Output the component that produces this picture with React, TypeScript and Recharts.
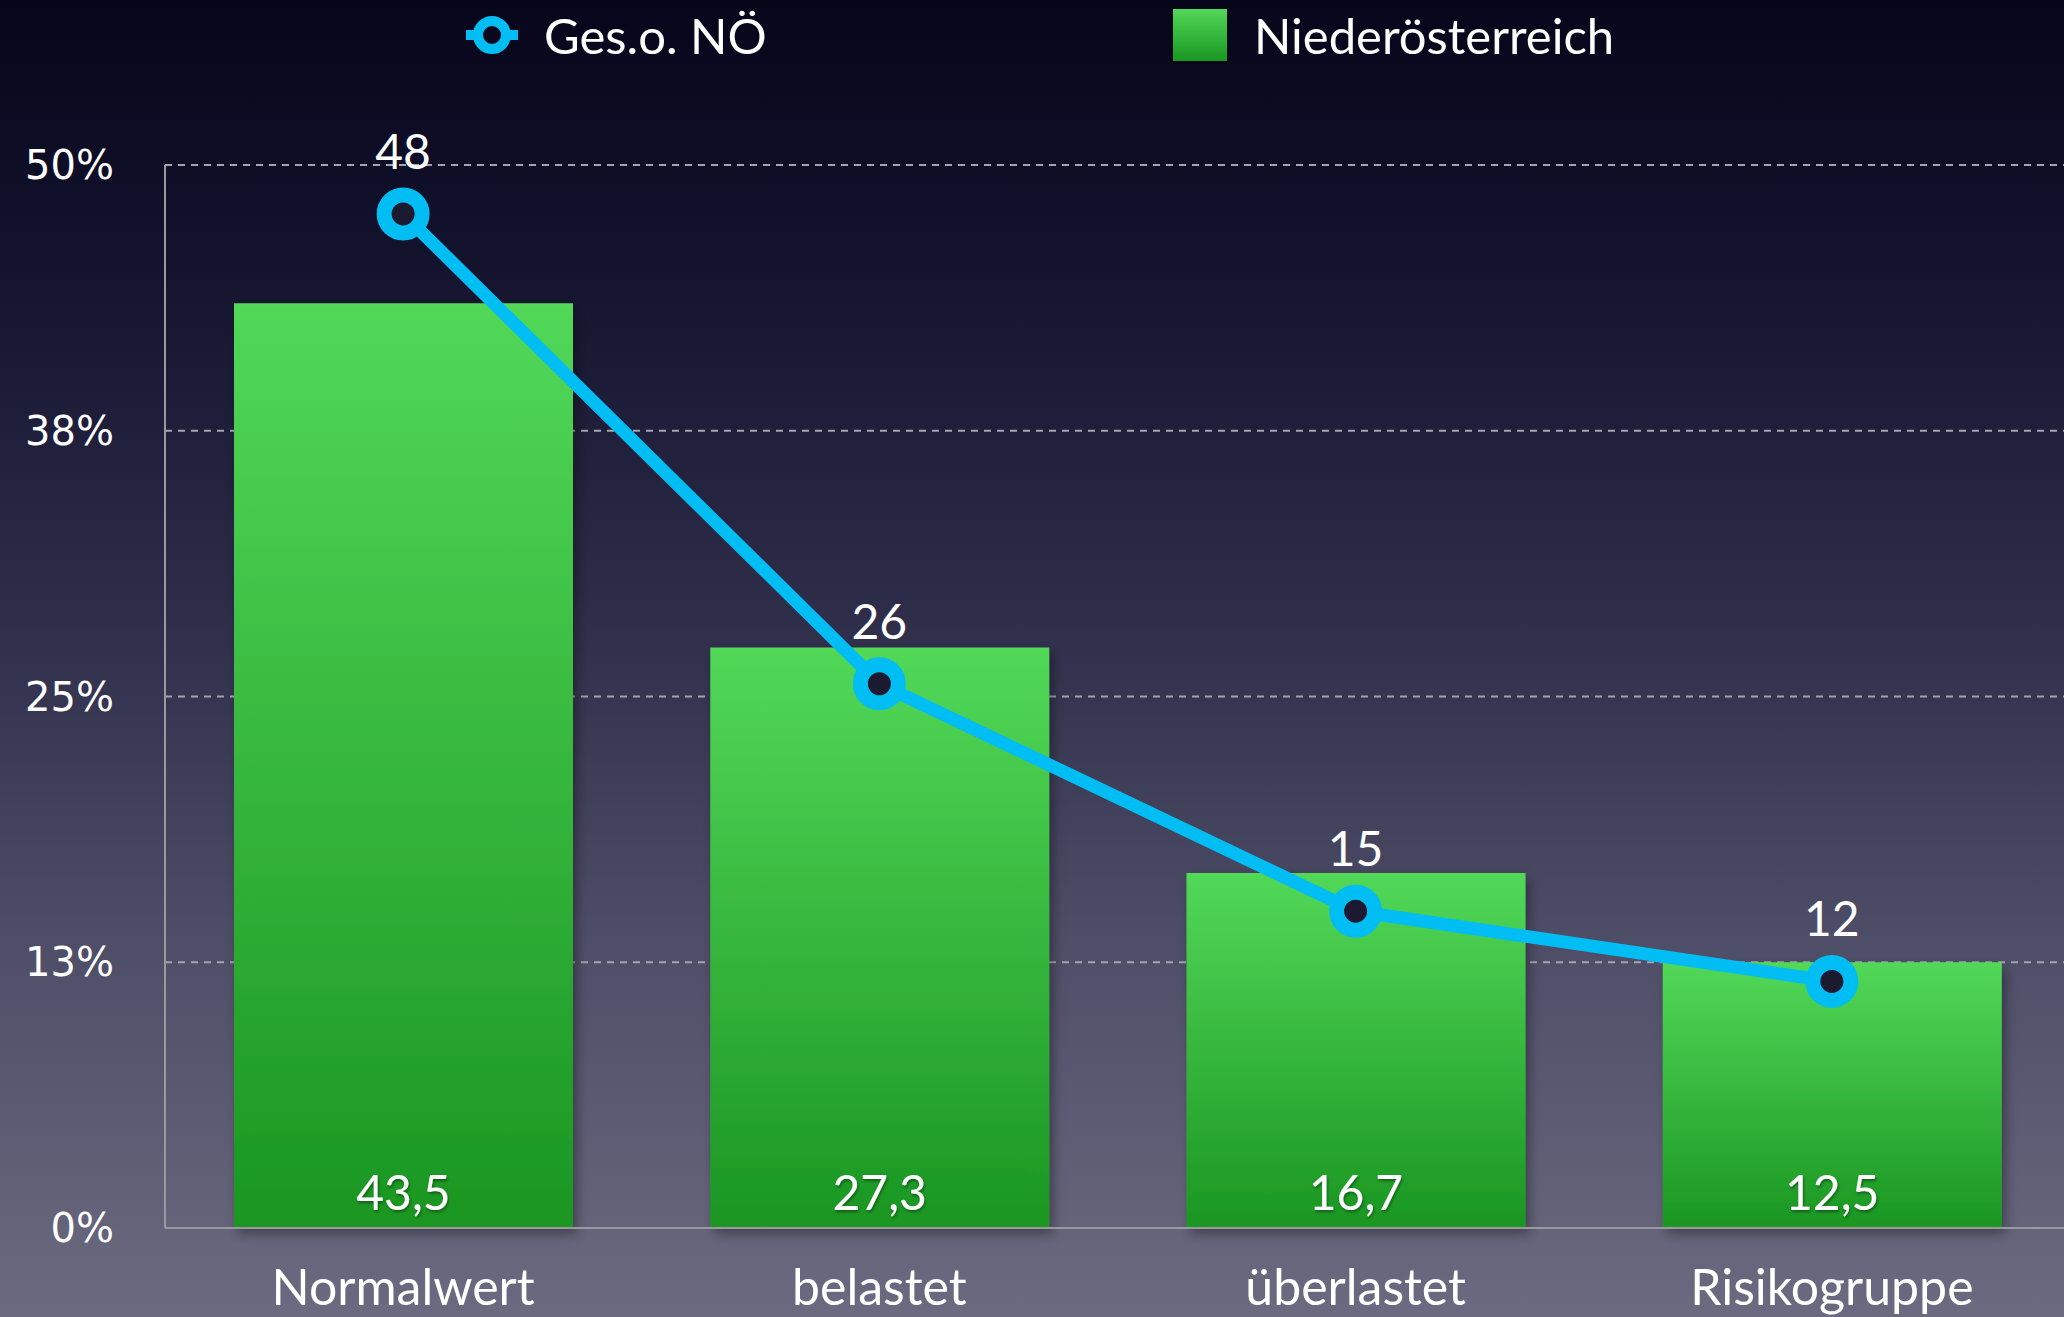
import React from 'react';
import {
  ComposedChart, Bar, Line, XAxis, YAxis, CartesianGrid, LabelList,
} from 'recharts';

const categories = ['Normalwert', 'belastet', 'überlastet', 'Risikogruppe'];
const noeValues = [43.5, 27.3, 16.7, 12.5];
const gesValues = [47.7, 25.6, 14.9, 11.6];
const yTicks = [0, 12.5, 25, 37.5, 50];

const data = categories.map((name, i) => ({
  name,
  noe: noeValues[i],
  ges: gesValues[i],
}));

const W = 2064;
const H = 1317;
const FONT = 'Lato, "Open Sans", sans-serif';
const LINE = '#00bef4';

const fmtComma = (v: number) => String(v).replace('.', ',');

// Balkenwert unten im Balken
const BarValue = (props: any) => {
  const { x, y, width, height, value } = props;
  return (
    <text
      x={x + width / 2}
      y={y + height - 37}
      fill="#fff"
      fontSize={48}
      fontFamily={FONT}
      textAnchor="middle"
      dominantBaseline="central"
      filter="url(#txtShadow)"
    >
      {fmtComma(value)}
    </text>
  );
};

const RingDot = (props: any) => {
  const { cx, cy } = props;
  return <circle cx={cx} cy={cy} r={19} fill="#1b1a30" stroke={LINE} strokeWidth={15} />;
};

export default function App() {
  return (
    <div
      style={{
        position: 'absolute', left: 0, top: 0, width: W, height: H, overflow: 'hidden',
        background: 'linear-gradient(#06051a 0%, #14132e 20%, #2c2b48 45%, #4d4c66 70%, #6c6a80 100%)',
        fontFamily: FONT,
      }}
    >
      {/* Legende */}
      <div style={{ position: 'absolute', left: 466, top: 6, height: 58, display: 'flex', alignItems: 'center', color: '#fff', fontSize: 49 }}>
        <svg width={52} height={52} style={{ marginRight: 26 }}>
          <line x1={0} y1={26} x2={52} y2={26} stroke={LINE} strokeWidth={10} />
          <circle cx={26} cy={26} r={14} fill="#08071d" stroke={LINE} strokeWidth={10} />
        </svg>
        <span>Ges.o. NÖ</span>
      </div>
      <div style={{ position: 'absolute', left: 1173, top: 6, height: 58, display: 'flex', alignItems: 'center', color: '#fff', fontSize: 49 }}>
        <div style={{ width: 54, height: 52, marginRight: 27, background: 'linear-gradient(#52d858, #1a9622)' }} />
        <span>Niederösterreich</span>
      </div>

      <div style={{ position: 'absolute', left: 0, top: 0 }}>
        <ComposedChart width={W} height={H} data={data} margin={{ top: 165, right: -6, bottom: 0, left: 0 }}>
          <defs>
            <linearGradient id="barGrad" x1="0" y1="0" x2="0" y2="1">
              <stop offset="0%" stopColor="#52d858" />
              <stop offset="100%" stopColor="#1a9622" />
            </linearGradient>
            <filter id="barShadow" x="-10%" y="-10%" width="130%" height="130%">
              <feDropShadow dx="4" dy="6" stdDeviation="6" floodColor="#000" floodOpacity="0.35" />
            </filter>
            <filter id="txtShadow" x="-20%" y="-20%" width="140%" height="140%">
              <feDropShadow dx="1" dy="2" stdDeviation="1.5" floodColor="#000" floodOpacity="0.4" />
            </filter>
          </defs>
          <CartesianGrid vertical={false} stroke="#a4a4ac" strokeDasharray="7 6" strokeWidth={2} />
          <XAxis
            dataKey="name"
            height={89}
            tickLine={false}
            tickSize={0}
            tickMargin={41}
            axisLine={{ stroke: '#9a9a9e', strokeWidth: 2 }}
            tick={{ fill: '#fff', fontSize: 50, fontFamily: FONT }}
          />
          <YAxis
            width={165}
            domain={[0, 50]}
            ticks={yTicks}
            tickFormatter={(v: number) => `${Math.round(v)}%`}
            tickLine={false}
            tickSize={0}
            tickMargin={51}
            axisLine={{ stroke: '#9a9a9e', strokeWidth: 2 }}
            tick={{ fill: '#fff', fontSize: 40, fontFamily: '"DejaVu Sans", sans-serif' }}
          />
          <Bar dataKey="noe" barSize={339} fill="url(#barGrad)" filter="url(#barShadow)" isAnimationActive={false}>
            <LabelList dataKey="noe" content={BarValue} />
          </Bar>
          <Line
            dataKey="ges"
            stroke={LINE}
            strokeWidth={13}
            dot={<RingDot />}
            activeDot={false}
            isAnimationActive={false}
          >
            <LabelList
              dataKey="ges"
              position="top"
              offset={45}
              fill="#fff"
              fontSize={48}
              fontFamily={FONT}
              formatter={(v: any) => Math.round(Number(v))}
            />
          </Line>
        </ComposedChart>
      </div>
    </div>
  );
}
